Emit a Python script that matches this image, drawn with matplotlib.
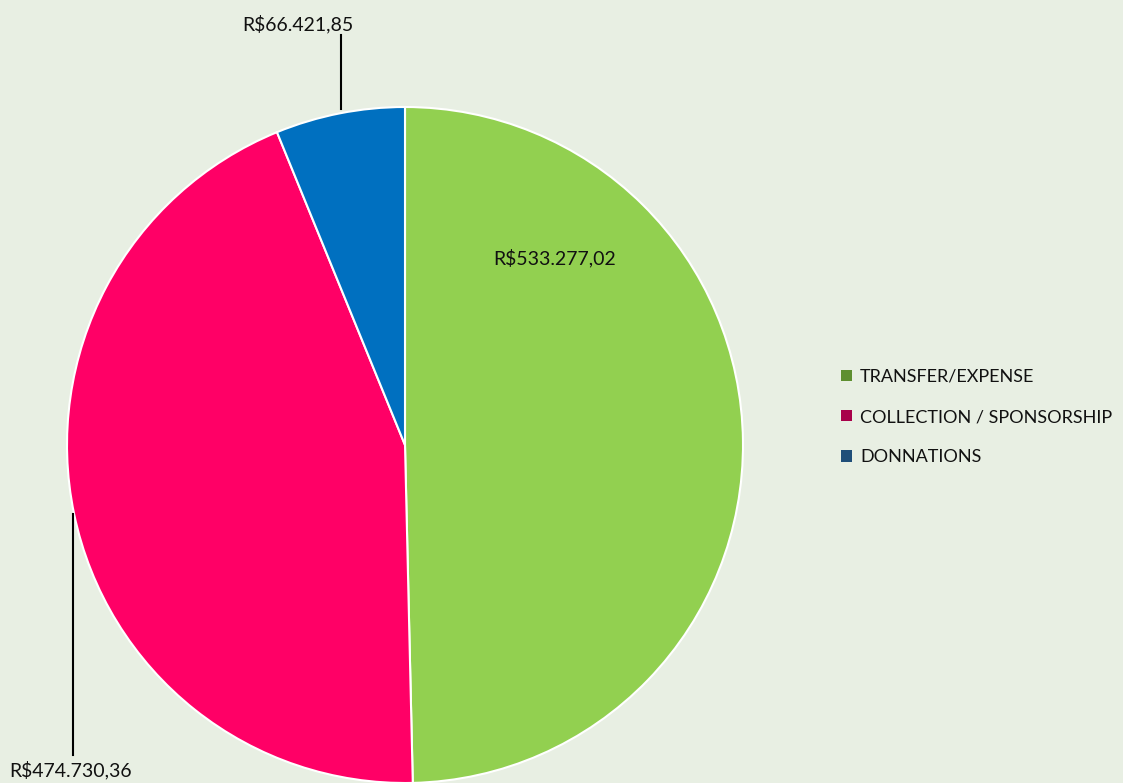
import matplotlib
matplotlib.use("Agg")
import matplotlib.pyplot as plt
from matplotlib.patches import Patch

categories = ["TRANSFER/EXPENSE", "COLLECTION / SPONSORSHIP", "DONNATIONS"]
values = [533277.02, 474730.36, 66421.85]
colors = ["#92D050", "#FF0066", "#0070C0"]
legend_colors = ["#5E8F30", "#A8004A", "#1F4E79"]

def brl(v):
    s = f"{v:,.2f}"
    s = s.replace(",", "X").replace(".", ",").replace("X", ".")
    return "R$" + s

BG = "#E8EFE3"
plt.rcParams['font.family'] = ['Lato', 'DejaVu Sans']

fig = plt.figure(figsize=(11.23, 7.83), dpi=100, facecolor=BG)
ax = fig.add_axes([67/1123, 0, 676/1123, 676/783])
ax.set_facecolor(BG)
wedges, _ = ax.pie(values, colors=colors, startangle=90, counterclock=False,
                   radius=1.0, wedgeprops=dict(edgecolor="white", linewidth=1.5))
ax.set_xlim(-1, 1)
ax.set_ylim(-1, 1)
ax.set_aspect("equal")
ax.axis("off")

fs = 14
ax.text(0.444, 0.553, brl(values[0]), ha="center", va="center", fontsize=fs, color="#111111")
ax.text(-0.317, 1.246, brl(values[2]), ha="center", va="center", fontsize=fs, color="#111111", clip_on=False)
ax.plot([-0.189, -0.189], [0.993, 1.212], color="black", lw=1.5, clip_on=False)
ax.text(-0.988, -0.962, brl(values[1]), ha="center", va="center", fontsize=fs, color="#111111", clip_on=False)
ax.plot([-0.982, -0.982], [-0.204, -0.917], color="black", lw=1.5, clip_on=False)

handles = [Patch(facecolor=c, edgecolor="none") for c in legend_colors]
fig.legend(handles, categories, loc="center left", bbox_to_anchor=(834/1123, 1 - 417/783),
           frameon=False, fontsize=13, handlelength=0.6, handleheight=0.6,
           handletextpad=0.45, labelspacing=1.35, labelcolor="#111111", borderaxespad=0)

fig.savefig("out.png", dpi=100, facecolor=BG)
